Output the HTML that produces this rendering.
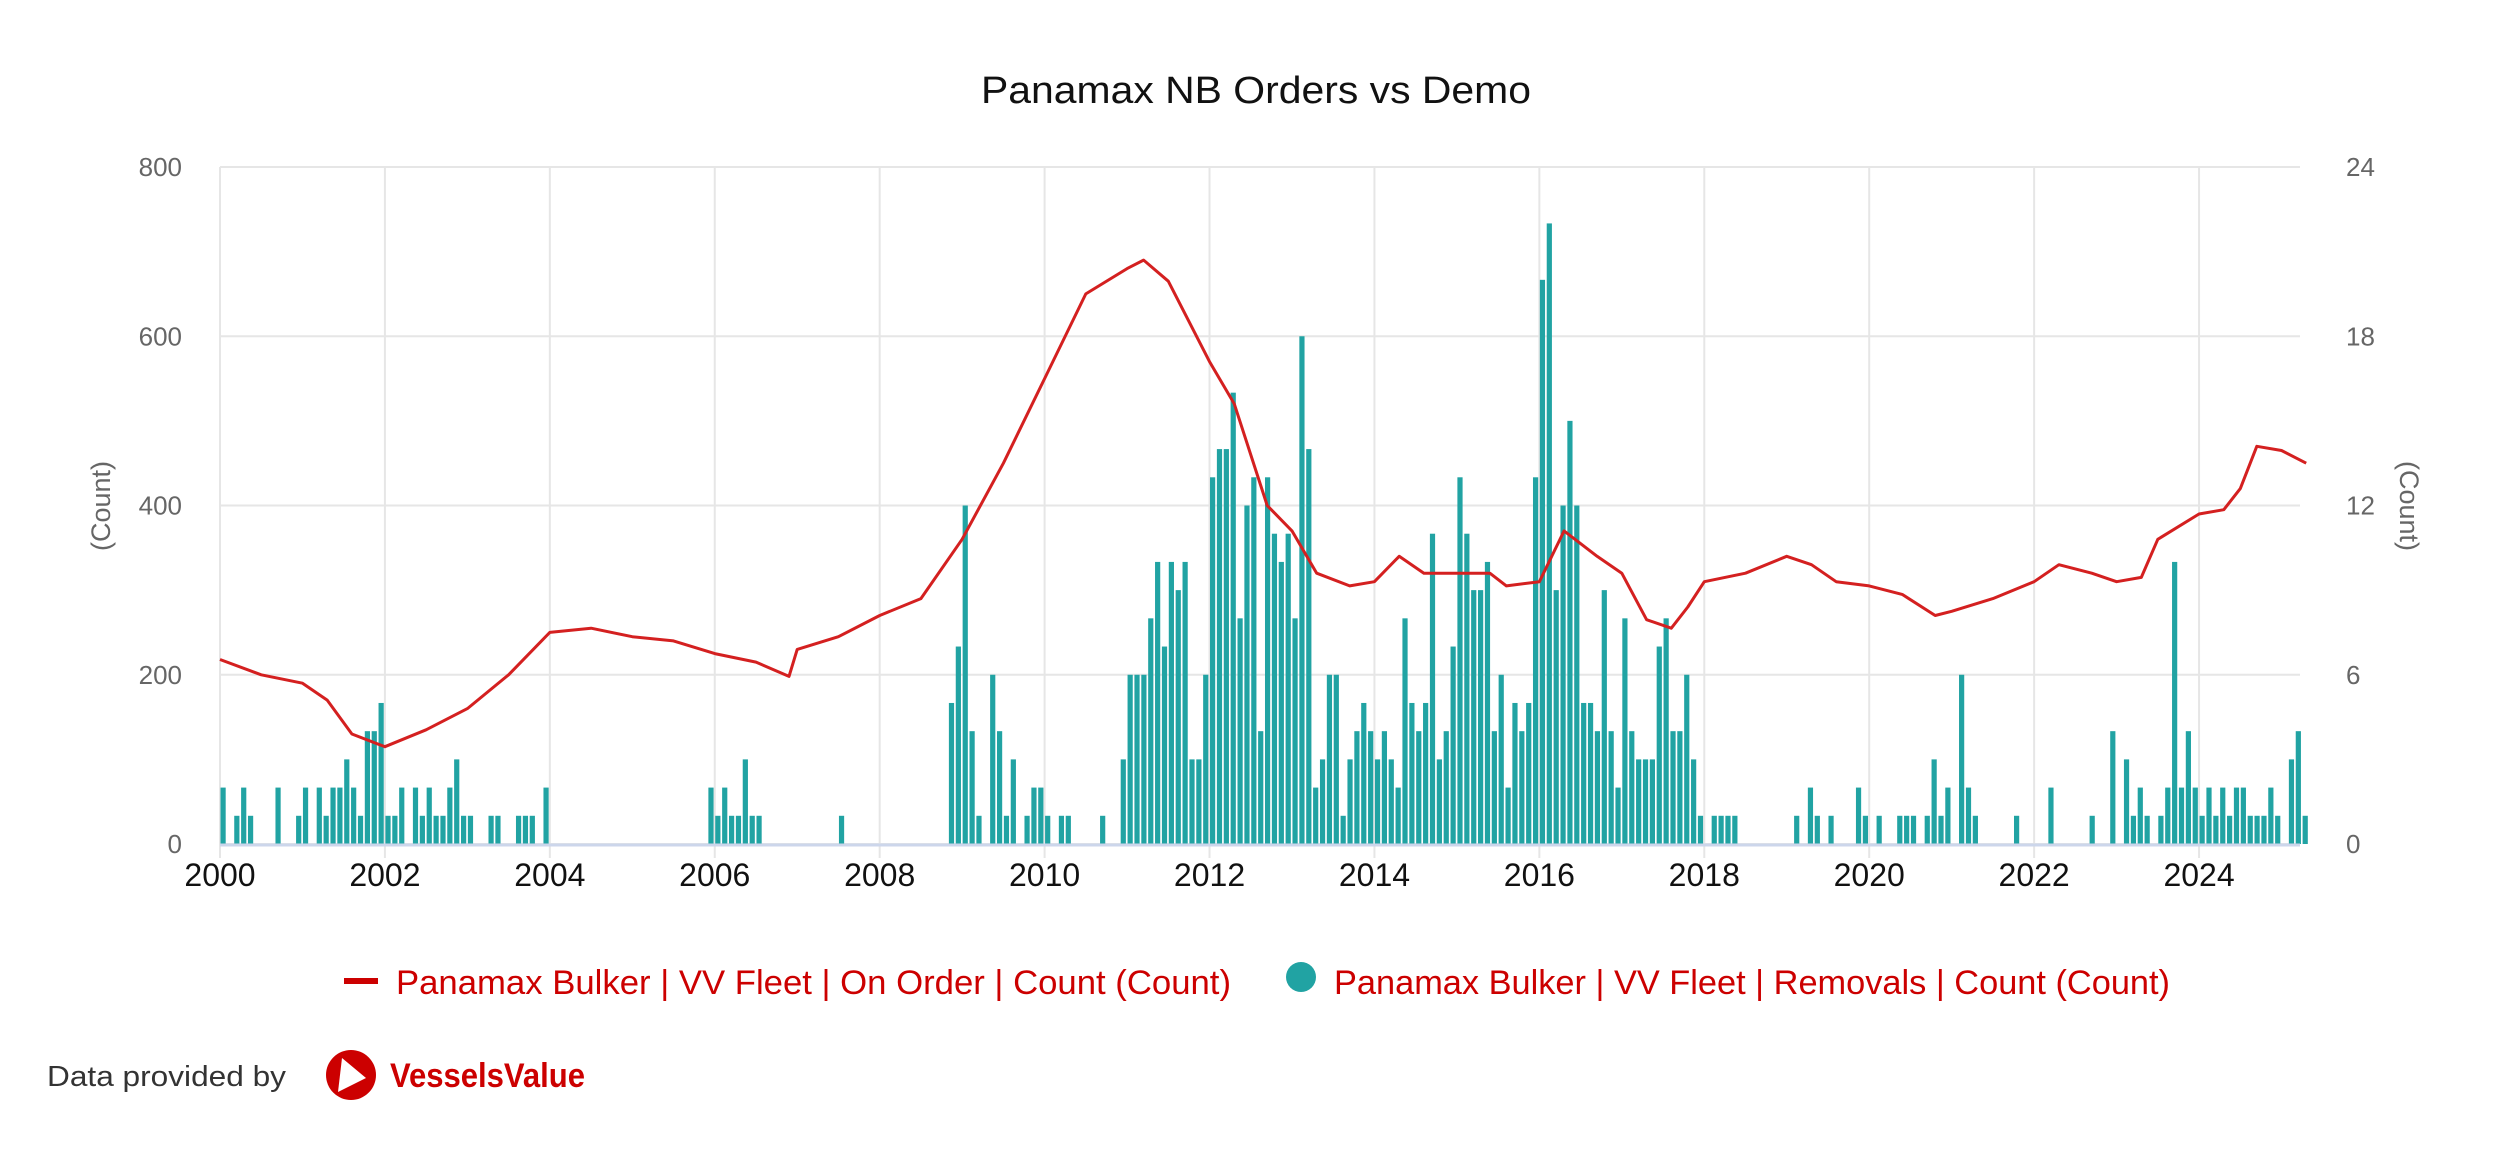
<!DOCTYPE html>
<html><head><meta charset="utf-8"><style>
html,body{margin:0;padding:0;background:#fff;}
body{width:2516px;height:1148px;overflow:hidden;font-family:"Liberation Sans",sans-serif;}
</style></head><body>
<svg id="chart" width="2516" height="1148" xmlns="http://www.w3.org/2000/svg" style="font-family:'Liberation Sans',sans-serif">
<text x="981" y="103" font-size="38" fill="#111" textLength="550" lengthAdjust="spacingAndGlyphs">Panamax NB Orders vs Demo</text>
<g id="grid"></g>
<g id="bars"></g>
<g id="line"></g>
<g id="axes"></g>
<text transform="translate(110,506) rotate(-90)" text-anchor="middle" font-size="27" fill="#666">(Count)</text>
<text transform="translate(2400,506) rotate(90)" text-anchor="middle" font-size="27" fill="#666">(Count)</text>
<g>
<rect x="344" y="978" width="34" height="6" fill="#cc0000"></rect>
<text x="396" y="994" font-size="34" fill="#cc0000" textLength="835" lengthAdjust="spacingAndGlyphs">Panamax Bulker | VV Fleet | On Order | Count (Count)</text>
</g>
<g>
<circle cx="1301" cy="977" r="15" fill="#21a3a3"></circle>
<text x="1334" y="994" font-size="34" fill="#cc0000" textLength="836" lengthAdjust="spacingAndGlyphs">Panamax Bulker | VV Fleet | Removals | Count (Count)</text>
</g>
<text x="47" y="1086" font-size="29" fill="#333" textLength="239" lengthAdjust="spacingAndGlyphs">Data provided by</text>
<g>
<circle cx="351" cy="1075" r="25" fill="#cc0000"></circle>
<polygon points="342,1058 366,1078 338,1092" fill="#fff"></polygon>
<text x="390" y="1087" font-size="34" font-weight="bold" fill="#cc0000" textLength="195" lengthAdjust="spacingAndGlyphs">VesselsValue</text>
</g>
</svg>
<script>
// Removals: month index from Jan 2000, value in count
const barMonths = [0,2,3,4,8,11,12,14,15,16,17,18,19,20,21,22,23,24,25,26,28,29,30,31,32,33,34,35,36,39,40,43,44,45,47,71,72,73,74,75,76,77,78,90,
106,107,108,109,110,112,113,114,115,117,118,119,120,122,123,128,131,132,133,134,135,136,137,138,139,140,141,142,143,144,145,146,147,148,149,150,151,152,153,154,155,156,157,158,159,160,161,162,163,164,165,166,167,168,169,170,171,
172,173,174,175,176,177,178,179,180,181,182,183,184,185,186,187,188,189,190,191,192,193,194,195,196,197,198,199,200,201,202,203,204,205,206,207,208,209,210,211,212,213,214,215,217,218,219,220,229,231,232,234,238,239,241,244,245,246,248,249,250,251,253,254,255,261,266,272,
275,277,278,279,280,282,283,284,285,286,287,288,289,290,291,292,293,294,295,296,297,298,299,301,302,303];
const barValues = [2,1,2,1,2,1,2,2,1,2,2,3,2,1,4,4,5,1,1,2,2,1,2,1,1,2,3,1,1,1,1,1,1,1,2,2,1,2,1,1,3,1,1,1,
5,7,12,4,1,6,4,1,3,1,2,2,1,1,1,1,3,6,6,6,8,10,7,10,9,10,3,3,6,13,14,14,16,8,12,13,4,13,11,10,11,8,18,14,2,3,6,6,1,3,4,5,4,3,4,3,2,
8,5,4,5,11,3,4,7,13,11,9,9,10,4,6,2,5,4,5,13,20,22,9,12,15,12,5,5,4,9,4,2,8,4,3,3,3,7,8,4,4,6,3,1,1,1,1,1,1,2,1,1,2,1,1,1,1,1,1,3,1,2,6,2,1,1,2,1,
4,3,1,2,1,1,2,10,2,4,2,1,2,1,2,1,2,2,1,1,1,2,1,3,4,1];
// On order line: decimal year, count
const lineYears = [2000.0,2000.5,2001.0,2001.3,2001.6,2002.0,2002.5,2003.0,2003.5,2004.0,2004.5,2005.0,2005.5,2006.0,2006.5,2006.9,2007.0,2007.5,2008.0,2008.5,2009.0,2009.5,2010.0,2010.5,2011.0,2011.2,2011.5,2012.0,2012.3,2012.7,2013.0,2013.3,2013.7,2014.0,2014.3,2014.6,2015.0,2015.4,2015.6,2016.0,2016.3,2016.7,2017.0,2017.3,2017.6,2017.8,2018.0,2018.5,2019.0,2019.3,2019.6,2020.0,2020.4,2020.8,2021.0,2021.5,2022.0,2022.3,2022.7,2023.0,2023.3,2023.5,2024.0,2024.3,2024.5,2024.7,2025.0,2025.3];
const lineValues = [218,200,190,170,130,115,135,160,200,250,255,245,240,225,215,198,230,245,270,290,360,450,550,650,680,690,665,570,520,400,370,320,305,310,340,320,320,320,305,310,370,340,320,265,255,280,310,320,340,330,310,305,295,270,275,290,310,330,320,310,315,360,390,395,420,470,465,450];
const xTicks = [2000,2002,2004,2006,2008,2010,2012,2014,2016,2018,2020,2022,2024];
const leftTicks = [0,200,400,600,800];
const rightTicks = [0,6,12,18,24];

const L=220,R=2300,T=167,B=844,PX=82.46;
const xYear=y=>L+(y-2000)*PX;
const yLeft=v=>B-(v/800)*(B-T);
const yRight=v=>B-(v/24)*(B-T);
const NS='http://www.w3.org/2000/svg';
function mk(tag,parent,attrs){const e=document.createElementNS(NS,tag);for(const k in attrs)e.setAttribute(k,attrs[k]);parent.appendChild(e);return e;}
const grid=document.getElementById('grid'),axes=document.getElementById('axes'),bars=document.getElementById('bars'),line=document.getElementById('line');
leftTicks.forEach((v,i)=>{
  const g=mk('line',grid,{x1:L,x2:R,y1:yLeft(v),y2:yLeft(v),stroke:'#e6e6e6','stroke-width':2});
  
  
  const t=mk('text',axes,{x:182,y:yLeft(v)+9,'text-anchor':'end','font-size':26,fill:'#666'});
  t.textContent=v;
  
  
});
rightTicks.forEach(v=>{
  const t=mk('text',axes,{x:2346,y:yRight(v)+9,'text-anchor':'start','font-size':26,fill:'#666'});
  t.textContent=v;
  
  
});
xTicks.forEach(y=>{
  const x=xYear(y);
  const g=mk('line',grid,{x1:x,x2:x,y1:T,y2:B+14,stroke:'#e6e6e6','stroke-width':2});
  
  
  const t=mk('text',axes,{x:x,y:B+42,'text-anchor':'middle','font-size':32,fill:'#111'});
  t.textContent=y;
  
  
});
const base=mk('line',axes,{x1:L,x2:R,y1:B+1,y2:B+1,stroke:'#ccd6eb','stroke-width':3});


barMonths.forEach((m,i)=>{
  const cx=xYear(2000+(m+0.45)/12);
  const r=mk('rect',bars,{x:cx-2.6,y:yRight(barValues[i]),width:5.2,height:B-yRight(barValues[i]),fill:'#21a3a3'});
  
  
});
const d=lineYears.map((y,i)=>(i?'L':'M')+xYear(y).toFixed(1)+','+yLeft(lineValues[i]).toFixed(1)).join(' ');
const p=mk('path',line,{d:d,fill:'none',stroke:'#d42020','stroke-width':3,'stroke-linejoin':'round'});


</script>
</body></html>
